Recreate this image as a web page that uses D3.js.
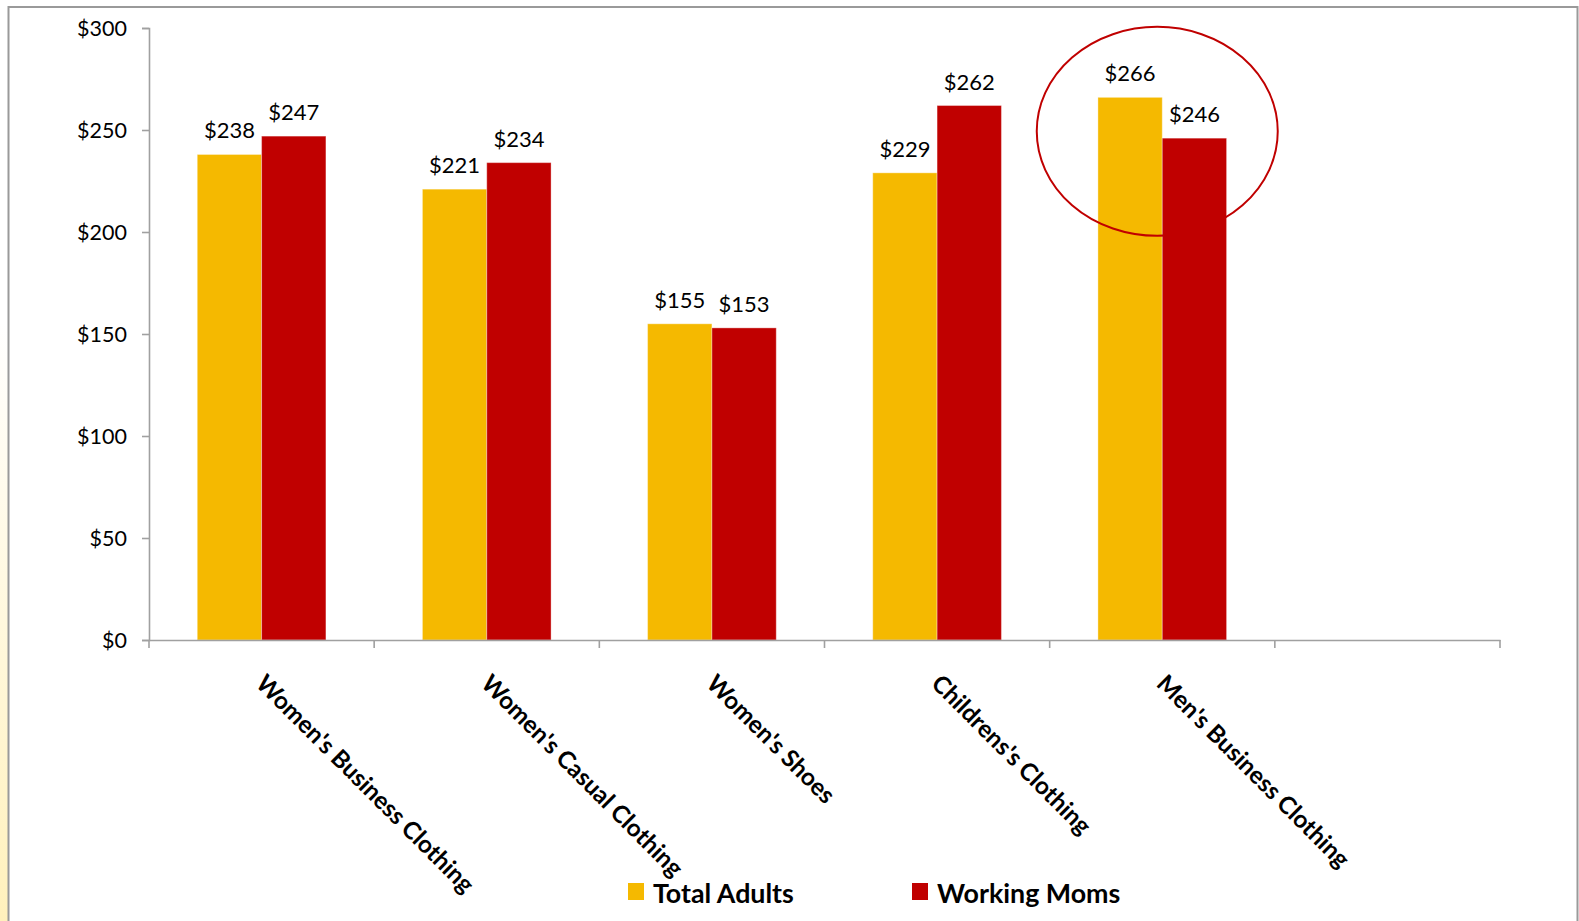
<!DOCTYPE html>
<html>
<head>
<meta charset="utf-8">
<script src="https://cdn.jsdelivr.net/npm/d3@7"></script>
<style>
  html, body { margin: 0; padding: 0; background: #ffffff; }
  svg { display: block; }
</style>
</head>
<body>
<svg id="chart" width="1579" height="921"></svg>
<script>
// ---- data ----
const categories = ["Women's Business Clothing", "Women's Casual Clothing", "Women's Shoes", "Childrens's Clothing", "Men's Business Clothing"];
const seriesNames = ["Total Adults", "Working Moms"];
const totalAdults = [238, 221, 155, 229, 266];
const workingMoms = [247, 234, 153, 262, 246];
const yTicks = [0, 50, 100, 150, 200, 250, 300];
const highlightCategory = "Men's Business Clothing";

const colors = ["#F5B900", "#C00000"];

const svg = d3.select("#chart");
const W = 1579, H = 921;

// background gradient at left edge
const defs = svg.append("defs");
const grad = defs.append("linearGradient").attr("id", "edgeGrad")
  .attr("x1", 0).attr("y1", 0).attr("x2", 0).attr("y2", 1);
grad.append("stop").attr("offset", "0%").attr("stop-color", "#ffffff");
grad.append("stop").attr("offset", "35%").attr("stop-color", "#ffffff");
grad.append("stop").attr("offset", "100%").attr("stop-color", "#FFF1BC");
svg.append("rect").attr("x", 0).attr("y", 0).attr("width", 8).attr("height", H).attr("fill", "url(#edgeGrad)");

// frame
svg.append("path")
  .attr("d", `M8.5,${H + 5} L8.5,7 L1577.5,7 L1577.5,${H + 5}`)
  .attr("fill", "none").attr("stroke", "#9a9a9a").attr("stroke-width", 2);

// scales
const plotLeft = 149, plotRight = 1500, plotTop = 28, plotBottom = 640;
const bandDomain = categories.concat([""]);
const x = d3.scaleBand().domain(bandDomain).range([plotLeft, plotRight]).paddingInner(0).paddingOuter(0);
const x1 = d3.scaleBand().domain(seriesNames).range([0, x.bandwidth()])
  .paddingInner(0).paddingOuter(0.75);
const y = d3.scaleLinear().domain([0, 300]).range([plotBottom, plotTop]);

const font = "Lato, 'Open Sans', sans-serif";

// bars
const rows = categories.map((c, i) => ({ cat: c, vals: [totalAdults[i], workingMoms[i]] }));
const groups = svg.append("g").selectAll("g").data(rows).join("g")
  .attr("transform", d => `translate(${x(d.cat)},0)`);
groups.selectAll("rect").data(d => d.vals.map((v, j) => ({ name: seriesNames[j], v, j })))
  .join("rect")
  .attr("x", d => x1(d.name))
  .attr("y", d => y(d.v))
  .attr("width", x1.bandwidth())
  .attr("height", d => y(0) - y(d.v))
  .attr("fill", d => colors[d.j])
  .attr("stroke", "rgba(255,255,255,0.35)")
  .attr("stroke-width", 1);

// data labels
groups.selectAll("text").data(d => d.vals.map((v, j) => ({ name: seriesNames[j], v, j })))
  .join("text")
  .attr("x", d => x1(d.name) + x1.bandwidth() / 2)
  .attr("y", d => y(d.v) - 16)
  .attr("text-anchor", "middle")
  .attr("font-family", font)
  .attr("font-size", 22)
  .attr("fill", "#000")
  .text(d => "$" + d.v);

// y axis
const yAxis = d3.axisLeft(y).tickValues(yTicks).tickSize(7).tickPadding(15).tickFormat(d => "$" + d);
const gy = svg.append("g").attr("transform", `translate(${plotLeft},0)`).call(yAxis);
gy.select(".domain").attr("stroke", "#a0a0a0").attr("stroke-width", 1.6);
gy.selectAll(".tick line").attr("stroke", "#a0a0a0").attr("stroke-width", 1.6);
gy.selectAll(".tick text").attr("font-family", font).attr("font-size", 21.5).attr("fill", "#000").attr("dy", "0.36em");

// x axis
const xAxis = d3.axisBottom(x).tickValues([]).tickSize(0);
const gx = svg.append("g").attr("transform", `translate(0,${plotBottom})`).call(xAxis);
gx.select(".domain").attr("stroke", "#a0a0a0").attr("stroke-width", 1.6);
const tickPositions = bandDomain.map(c => x(c)).concat([plotRight]);
gx.selectAll("line.xt").data(tickPositions).join("line").attr("class", "xt")
  .attr("x1", d => d).attr("x2", d => d).attr("y1", 0).attr("y2", 8)
  .attr("stroke", "#a0a0a0").attr("stroke-width", 1.6);

// rotated category labels
svg.append("g").selectAll("text").data(categories).join("text")
  .attr("transform", d => `translate(${x(d) + x.bandwidth() / 2 - 1},${plotBottom + 39}) rotate(45)`)
  .attr("text-anchor", "start")
  .attr("dy", "0.35em")
  .attr("font-family", font)
  .attr("font-weight", "bold")
  .attr("font-size", 24.2)
  .attr("fill", "#000")
  .text(d => d);

// highlight ellipse
const hx = x(highlightCategory) + x.bandwidth() / 2;
const hVal = Math.max(totalAdults[4], workingMoms[4]);
svg.append("ellipse")
  .attr("cx", hx - 5)
  .attr("cy", y(hVal) + 34)
  .attr("rx", 120.5)
  .attr("ry", 104.5)
  .attr("fill", "none")
  .attr("stroke", "#C00000")
  .attr("stroke-width", 2);

// legend
const legendItems = [{ name: seriesNames[0], x: 628 }, { name: seriesNames[1], x: 912 }];
const lg = svg.append("g").selectAll("g").data(legendItems).join("g")
  .attr("transform", d => `translate(${d.x},883)`);
lg.append("rect").attr("width", 16).attr("height", 17).attr("fill", (d, i) => colors[i]);
lg.append("text").attr("x", 25).attr("y", 20)
  .attr("font-family", font).attr("font-weight", "bold").attr("font-size", 26.8)
  .attr("fill", "#000").text(d => d.name);
</script>
</body>
</html>
